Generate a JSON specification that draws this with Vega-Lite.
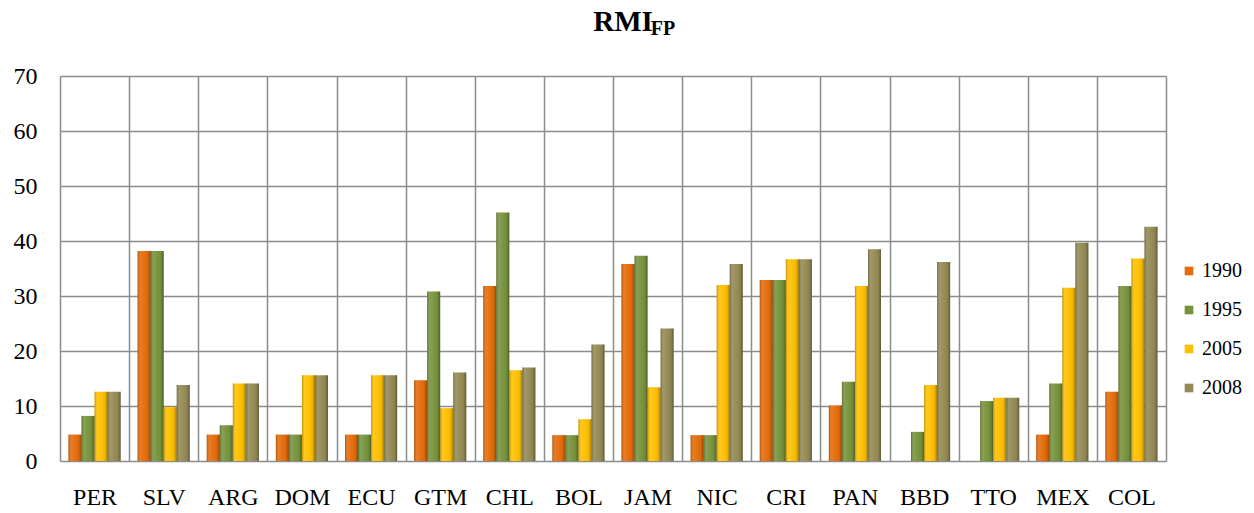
{
  "$schema": "https://vega.github.io/schema/vega-lite/v6.json",
  "width": 1106,
  "height": 385,
  "autosize": {"type": "none"},
  "padding": {"left": 60, "top": 76, "right": 88, "bottom": 52},
  "background": "white",
  "config": {"font": "Liberation Serif", "view": {"stroke": null}},
  "title": {
    "text": "RMI",
    "subtitle": "\u200B\u2003\u2003\u2003\u2003FP",
    "font": "Liberation Serif",
    "fontSize": 29,
    "fontWeight": "bold",
    "color": "black",
    "subtitleFontSize": 20,
    "subtitleFontWeight": "bold",
    "subtitleColor": "black",
    "subtitleFont": "Liberation Serif",
    "subtitlePadding": -18,
    "anchor": "middle",
    "frame": "group",
    "dx": 10,
    "offset": 25
  },
  "data": {
    "values": [
      {"c": "PER", "year": "1990", "v": 4.8}, {"c": "PER", "year": "1995", "v": 8.2}, {"c": "PER", "year": "2005", "v": 12.6}, {"c": "PER", "year": "2008", "v": 12.6},
      {"c": "SLV", "year": "1990", "v": 38.2}, {"c": "SLV", "year": "1995", "v": 38.2}, {"c": "SLV", "year": "2005", "v": 9.8}, {"c": "SLV", "year": "2008", "v": 13.8},
      {"c": "ARG", "year": "1990", "v": 4.8}, {"c": "ARG", "year": "1995", "v": 6.5}, {"c": "ARG", "year": "2005", "v": 14.1}, {"c": "ARG", "year": "2008", "v": 14.1},
      {"c": "DOM", "year": "1990", "v": 4.8}, {"c": "DOM", "year": "1995", "v": 4.8}, {"c": "DOM", "year": "2005", "v": 15.6}, {"c": "DOM", "year": "2008", "v": 15.6},
      {"c": "ECU", "year": "1990", "v": 4.8}, {"c": "ECU", "year": "1995", "v": 4.8}, {"c": "ECU", "year": "2005", "v": 15.6}, {"c": "ECU", "year": "2008", "v": 15.6},
      {"c": "GTM", "year": "1990", "v": 14.7}, {"c": "GTM", "year": "1995", "v": 30.8}, {"c": "GTM", "year": "2005", "v": 9.6}, {"c": "GTM", "year": "2008", "v": 16.1},
      {"c": "CHL", "year": "1990", "v": 31.8}, {"c": "CHL", "year": "1995", "v": 45.2}, {"c": "CHL", "year": "2005", "v": 16.5}, {"c": "CHL", "year": "2008", "v": 17.0},
      {"c": "BOL", "year": "1990", "v": 4.7}, {"c": "BOL", "year": "1995", "v": 4.7}, {"c": "BOL", "year": "2005", "v": 7.6}, {"c": "BOL", "year": "2008", "v": 21.2},
      {"c": "JAM", "year": "1990", "v": 35.8}, {"c": "JAM", "year": "1995", "v": 37.3}, {"c": "JAM", "year": "2005", "v": 13.4}, {"c": "JAM", "year": "2008", "v": 24.1},
      {"c": "NIC", "year": "1990", "v": 4.7}, {"c": "NIC", "year": "1995", "v": 4.7}, {"c": "NIC", "year": "2005", "v": 32.0}, {"c": "NIC", "year": "2008", "v": 35.8},
      {"c": "CRI", "year": "1990", "v": 32.9}, {"c": "CRI", "year": "1995", "v": 32.9}, {"c": "CRI", "year": "2005", "v": 36.7}, {"c": "CRI", "year": "2008", "v": 36.7},
      {"c": "PAN", "year": "1990", "v": 10.1}, {"c": "PAN", "year": "1995", "v": 14.4}, {"c": "PAN", "year": "2005", "v": 31.8}, {"c": "PAN", "year": "2008", "v": 38.5},
      {"c": "BBD", "year": "1995", "v": 5.3}, {"c": "BBD", "year": "2005", "v": 13.8}, {"c": "BBD", "year": "2008", "v": 36.2},
      {"c": "TTO", "year": "1995", "v": 10.9}, {"c": "TTO", "year": "2005", "v": 11.5}, {"c": "TTO", "year": "2008", "v": 11.5},
      {"c": "MEX", "year": "1990", "v": 4.8}, {"c": "MEX", "year": "1995", "v": 14.1}, {"c": "MEX", "year": "2005", "v": 31.5}, {"c": "MEX", "year": "2008", "v": 39.7},
      {"c": "COL", "year": "1990", "v": 12.6}, {"c": "COL", "year": "1995", "v": 31.8}, {"c": "COL", "year": "2005", "v": 36.8}, {"c": "COL", "year": "2008", "v": 42.6}
    ]
  },
  "encoding": {
    "x": {
      "field": "c",
      "type": "nominal",
      "sort": ["PER", "SLV", "ARG", "DOM", "ECU", "GTM", "CHL", "BOL", "JAM", "NIC", "CRI", "PAN", "BBD", "TTO", "MEX", "COL"],
      "scale": {"paddingInner": 0, "paddingOuter": 0},
      "axis": {
        "title": null,
        "labelAngle": 0,
        "labelFont": "Liberation Serif",
        "labelFontSize": 24,
        "labelColor": "black",
        "labelPadding": 24,
        "ticks": false,
        "tickBand": "extent",
        "grid": true,
        "gridColor": "#8c8c8c",
        "gridWidth": 1.5,
        "domain": false
      }
    },
    "xOffset": {
      "field": "year",
      "type": "nominal",
      "scale": {"domain": ["1990", "1995", "2005", "2008"], "paddingInner": 0, "paddingOuter": 0.65}
    },
    "y": {
      "field": "v",
      "type": "quantitative",
      "scale": {"domain": [0, 70]},
      "axis": {
        "title": null,
        "values": [0, 10, 20, 30, 40, 50, 60, 70],
        "labelFont": "Liberation Serif",
        "labelFontSize": 24,
        "labelColor": "black",
        "labelPadding": 23,
        "ticks": false,
        "domain": false,
        "grid": true,
        "gridColor": "#8c8c8c",
        "gridWidth": 1.5
      }
    }
  },
  "layer": [
    {
      "mark": {"type": "bar"},
      "encoding": {
        "color": {
          "field": "year",
          "type": "nominal",
          "scale": {"domain": ["1990", "1995", "2005", "2008"], "range": ["#E46C0A", "#77933C", "#FFC000", "#948A54"]},
          "legend": {
            "title": null,
            "orient": "none",
            "legendX": 1119,
            "legendY": 185,
            "symbolType": "square",
            "symbolSize": 75,
            "symbolStrokeWidth": 0,
            "labelFont": "Liberation Serif",
            "labelFontSize": 20,
            "labelColor": "black",
            "labelOffset": 3,
            "rowPadding": 19
          }
        }
      }
    },
    {
      "mark": {
        "type": "bar",
        "fill": {
          "gradient": "linear",
          "x1": 0, "x2": 1, "y1": 0, "y2": 0,
          "stops": [
            {"offset": 0, "color": "rgba(0,0,0,0.25)"},
            {"offset": 0.2, "color": "rgba(255,255,255,0.12)"},
            {"offset": 0.5, "color": "rgba(255,255,255,0.03)"},
            {"offset": 0.8, "color": "rgba(0,0,0,0.06)"},
            {"offset": 1, "color": "rgba(0,0,0,0.35)"}
          ]
        }
      },
      "encoding": {}
    }
  ]
}
